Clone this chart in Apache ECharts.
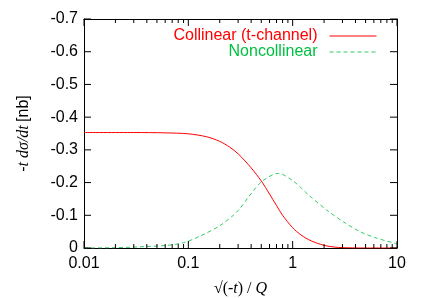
<!DOCTYPE html>
<html>
<head>
<meta charset="utf-8">
<script src="https://cdn.jsdelivr.net/npm/echarts@6/dist/echarts.min.js"></script>
<style>html,body{margin:0;padding:0;background:#fff}#c{width:425px;height:298px}</style>
</head>
<body>
<div id="c"></div>
<script>
// Data
const collinearX = [0.01, 0.03, 0.06, 0.1, 0.15, 0.2, 0.25, 0.3, 0.35, 0.4, 0.5, 0.6, 0.7, 0.8, 1.0, 1.2, 1.5, 2.0, 2.5, 3, 5, 10];
const collinearY = [-0.353, -0.353, -0.352, -0.349, -0.340, -0.326, -0.308, -0.288, -0.266, -0.245, -0.205, -0.165, -0.130, -0.100, -0.062, -0.040, -0.022, -0.008, -0.003, -0.001, 0, 0];
const noncollX = [0.01, 0.02, 0.043, 0.062, 0.0896, 0.129, 0.2, 0.27, 0.313, 0.376, 0.505, 0.728, 1.01, 1.47, 2.12, 3.06, 4.42, 6.39, 10];
const noncollY = [0, -0.001, -0.005, -0.008, -0.016, -0.036, -0.068, -0.100, -0.121, -0.155, -0.203, -0.228, -0.205, -0.158, -0.116, -0.080, -0.050, -0.030, -0.013];
const xMajorTicks = [0.01, 0.1, 1, 10];
const xMinorTicks = [0.02,0.03,0.04,0.05,0.06,0.07,0.08,0.09,0.2,0.3,0.4,0.5,0.6,0.7,0.8,0.9,2,3,4,5,6,7,8,9];
const yTicks = [0, -0.1, -0.2, -0.3, -0.4, -0.5, -0.6, -0.7];
const seriesNames = ['Collinear (t-channel)', 'Noncollinear'];

const RED = '#ff0000', GREEN = '#00c040', GREENLINE = '#33cc66';
const FONT = 'Liberation Sans';
const X_MIN = 0.01, X_MAX = 10, Y_MIN = -0.7, Y_MAX = 0;
const GRID = { left: 84, right: 28, top: 19, bottom: 50 };
const GW = 425 - GRID.left - GRID.right;
const GH = 298 - GRID.top - GRID.bottom;
const MAJOR_LEN = 7, MINOR_LEN = 4;   // tick lengths in px

function pairs(xs, ys) { return xs.map((x, i) => [x, ys[i]]); }

// tick lengths expressed in data units of each axis
const dyPerPx = (Y_MAX - Y_MIN) / GH;
const decadesPerPx = Math.log10(X_MAX / X_MIN) / GW;

// inward ticks as short black line segments through the axes' scales
const tickSeries = [];
function tick(p1, p2) {
  tickSeries.push({
    type: 'line', data: [p1, p2], xAxisIndex: 0, yAxisIndex: 0,
    symbol: 'none', showSymbol: false, silent: true, clip: false, z: 3,
    color: '#000', lineStyle: { color: '#000', width: 1 }, emphasis: { disabled: true }, tooltip: { show: false }
  });
}
function xTicks(vals, len) {
  const d = len * dyPerPx;
  vals.forEach(v => { tick([v, Y_MAX], [v, Y_MAX - d]); tick([v, Y_MIN], [v, Y_MIN + d]); });
}
xTicks(xMajorTicks, MAJOR_LEN);
xTicks(xMinorTicks, MINOR_LEN);
const f = Math.pow(10, MAJOR_LEN * decadesPerPx);
yTicks.forEach(v => { tick([X_MIN, v], [X_MIN * f, v]); tick([X_MAX, v], [X_MAX / f, v]); });

const chart = echarts.init(document.getElementById('c'), null, { renderer: 'canvas' });
chart.setOption({
  animation: false,
  grid: Object.assign({ containLabel: false, outerBoundsMode: 'none' }, GRID),
  legend: {
    orient: 'vertical', right: 48, top: 28, align: 'right', padding: 0,
    itemWidth: 47, itemHeight: 14, itemGap: 0,
    itemStyle: { opacity: 0 },
    lineStyle: { width: 1 },
    data: [
      { name: seriesNames[0], textStyle: { color: RED } },
      { name: seriesNames[1], textStyle: { color: GREEN } }
    ],
    textStyle: { fontFamily: FONT, fontSize: 16, padding: [0, 7, 0, 0] }
  },
  xAxis: [
    {
      type: 'log', logBase: 10, min: X_MIN, max: X_MAX, position: 'bottom',
      axisLine: { show: true, onZero: false, lineStyle: { color: '#000', width: 1 } },
      axisTick: { show: false }, minorTick: { show: false }, splitLine: { show: false },
      axisLabel: { show: true, customValues: xMajorTicks, color: '#000', fontFamily: FONT, fontSize: 16, margin: 8,
        formatter: v => String(+(+v).toPrecision(3)) },
      name: '{s|√(-}{i|t}{s|) / }{i|Q}', nameLocation: 'middle', nameGap: 33,
      nameTextStyle: { rich: {
        s: { fontFamily: 'Liberation Serif', fontSize: 16, color: '#000' },
        i: { fontFamily: 'Liberation Serif', fontStyle: 'italic', fontSize: 16, color: '#000' } } }
    },
    {
      type: 'log', logBase: 10, min: X_MIN, max: X_MAX, position: 'top',
      axisLine: { show: true, onZero: false, lineStyle: { color: '#000', width: 1 } },
      axisTick: { show: false }, axisLabel: { show: false }, splitLine: { show: false }
    }
  ],
  yAxis: [
    {
      type: 'value', min: Y_MIN, max: Y_MAX, interval: 0.1, inverse: true, position: 'left',
      axisLine: { show: true, onZero: false, lineStyle: { color: '#000', width: 1 } },
      axisTick: { show: false }, splitLine: { show: false },
      axisLabel: { show: true, color: '#000', fontFamily: FONT, fontSize: 16, margin: 6,
        formatter: v => Math.abs(v) < 1e-9 ? '0' : v.toFixed(1) },
      name: '{s|-}{i|t dσ/dt} {s|[nb]}', nameLocation: 'middle', nameGap: 52, nameRotate: 90,
      nameTextStyle: { rich: {
        s: { fontFamily: FONT, fontSize: 16, color: '#000' },
        i: { fontFamily: 'Liberation Serif', fontStyle: 'italic', fontSize: 16, color: '#000' } } }
    },
    {
      type: 'value', min: Y_MIN, max: Y_MAX, interval: 0.1, inverse: true, position: 'right',
      axisLine: { show: true, onZero: false, lineStyle: { color: '#000', width: 1 } },
      axisTick: { show: false }, axisLabel: { show: false }, splitLine: { show: false }
    }
  ],
  series: [
    { name: seriesNames[0], type: 'line', xAxisIndex: 0, yAxisIndex: 0, data: pairs(collinearX, collinearY),
      smooth: 0.3, symbol: 'none', showSymbol: false, color: RED,
      lineStyle: { color: RED, width: 1 } },
    { name: seriesNames[1], type: 'line', xAxisIndex: 0, yAxisIndex: 0, data: pairs(noncollX, noncollY),
      smooth: 0.3, symbol: 'none', showSymbol: false, color: GREENLINE,
      lineStyle: { color: GREENLINE, width: 1, type: [4, 3] } }
  ].concat(tickSeries)
});
</script>
</body>
</html>
